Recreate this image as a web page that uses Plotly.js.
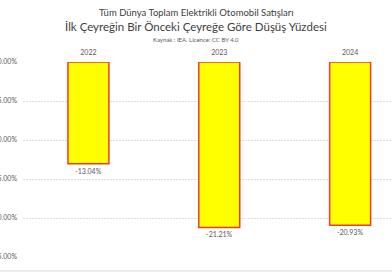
<!DOCTYPE html>
<html><head><meta charset="utf-8">
<script src="https://cdn.plot.ly/plotly-3.0.1.min.js"></script>
<style>html,body{margin:0;padding:0;overflow:hidden;background:#fff}</style>
</head><body>
<div id="chart" style="width:392px;height:272px"></div>
<script>
const years = ["2022", "2023", "2024"];
const declines = [-13.04, -21.21, -20.93];
const yTicks = [0, -5, -10, -15, -20, -25];
const titleTop = "Tüm Dünya Toplam Elektrikli Otomobil Satışları";
const titleMain = "İlk Çeyreğin Bir Önceki Çeyreğe Göre Düşüş Yüzdesi";
const titleSource = "Kaynak : IEA. Licence: CC BY 4.0";

const FONT = "Lato, 'Open Sans', sans-serif";
const trace = {
  type: "bar",
  x: years,
  y: declines,
  width: 0.313,
  marker: {color: "#ffff00", line: {color: "#ef3b2c", width: 1.5}},
  text: declines.map(v => v.toFixed(2) + "%"),
  textposition: "outside",
  textfont: {family: FONT, size: 7, color: "#595959"},
  cliponaxis: false,
  hoverinfo: "none"
};
const layout = {
  width: 392, height: 272,
  margin: {l: 23, r: 0, t: 62, b: 15},
  paper_bgcolor: "#fff", plot_bgcolor: "#fff",
  showlegend: false,
  font: {family: FONT, color: "#595959"},
  xaxis: {
    type: "category", side: "top", range: [-0.5, 2.32],
    showgrid: false, zeroline: false, showline: false, ticks: "",
    ticklabelstandoff: 5,
    tickfont: {family: FONT, size: 7, color: "#595959"},
    fixedrange: true
  },
  yaxis: {
    range: [-25, 0], tickvals: yTicks,
    ticktext: yTicks.map(v => v.toFixed(2) + "%"),
    showgrid: true, gridcolor: "#dcdcdc", gridwidth: 1, griddash: "2px,1px",
    zeroline: false, showline: false, ticks: "",
    ticklabelstandoff: 5,
    tickfont: {family: FONT, size: 7, color: "#595959"},
    automargin: false, fixedrange: true
  },
  annotations: [
    {text: titleTop, xref: "paper", yref: "paper", x: 0.47, y: 0, xanchor: "center", yanchor: "middle",
     showarrow: false, font: {family: FONT, size: 9.5, color: "#404040"}},
    {text: titleMain, xref: "paper", yref: "paper", x: 0.47, y: 0, xanchor: "center", yanchor: "middle",
     showarrow: false, font: {family: FONT, size: 11.5, color: "#404040"}},
    {text: titleSource, xref: "paper", yref: "paper", x: 0.47, y: 0, xanchor: "center", yanchor: "middle",
     showarrow: false, font: {family: FONT, size: 6, color: "#595959"}}
  ],
  shapes: [
    {type: "line", xref: "paper", yref: "paper", x0: -0.1, x1: 1.1, y0: 0, y1: 0, line: {color: "#d9d9d9", width: 1}}
  ]
};
const plotH = 272 - 62 - 15;
function yPaper(px) { return (272 - 15 - px) / plotH; }
layout.annotations[0].y = yPaper(12);
layout.annotations[1].y = yPaper(27);
layout.annotations[2].y = yPaper(39);
layout.shapes[0].y0 = layout.shapes[0].y1 = yPaper(271);
const plotW = 392 - 23;
layout.annotations.forEach(a => a.x = (196 - 23) / plotW);
Plotly.newPlot("chart", [trace], layout, {displayModeBar: false, staticPlot: true});
</script>
</body></html>
